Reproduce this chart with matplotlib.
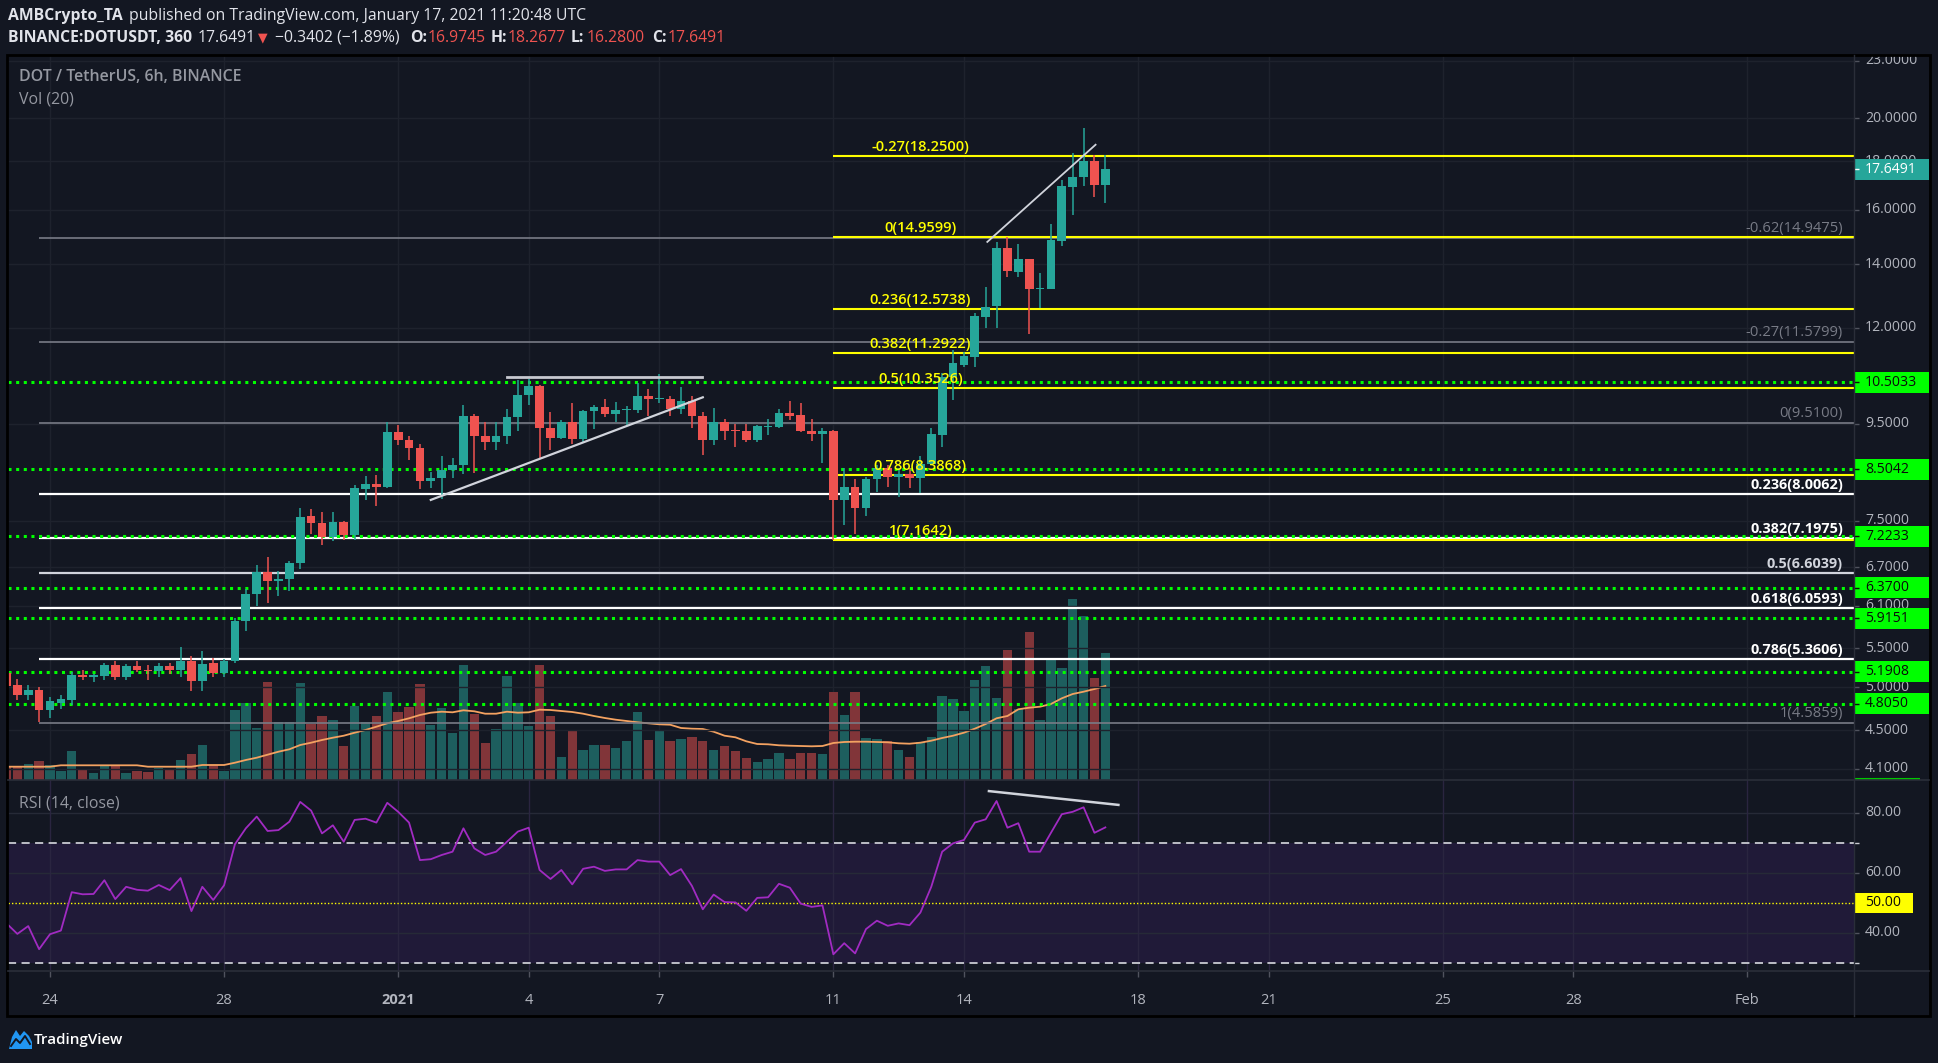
import numpy as np
import matplotlib
matplotlib.use("Agg")
import matplotlib.pyplot as plt
from matplotlib.patches import Rectangle, Polygon
from matplotlib.transforms import offset_copy, blended_transform_factory

# ---------------- data (6h candles, index 0 = Dec 23 2020 00:00 UTC) ----------------
opens = [5.18, 5.03, 4.91, 4.97, 4.73, 4.81, 4.85, 5.15, 5.13, 5.14,
         5.28, 5.12, 5.26, 5.22, 5.20, 5.27, 5.21, 5.33, 5.07, 5.31,
         5.18, 5.33, 5.87, 6.27, 6.62, 6.48, 6.51, 6.76, 7.59, 7.46,
         7.20, 7.47, 7.24, 8.10, 8.20, 8.15, 9.30, 9.13, 8.96, 8.27,
         8.32, 8.49, 8.58, 9.68, 9.23, 9.09, 9.23, 9.65, 10.19, 10.41,
         9.41, 9.18, 9.54, 9.15, 9.79, 9.89, 9.73, 9.82, 9.82, 10.16,
         10.09, 10.10, 9.84, 10.04, 9.69, 9.13, 9.54, 9.34, 9.33, 9.13,
         9.42, 9.43, 9.76, 9.70, 9.34, 9.26, 9.33, 7.89, 8.14, 7.74,
         8.30, 8.53, 8.35, 8.40, 8.33, 8.61, 9.24, 10.65, 10.95, 11.18,
         12.33, 12.65, 14.59, 13.76, 14.20, 13.18, 13.18, 14.83, 16.90, 17.31,
         18.00, 16.9745]
highs = [5.22, 5.10, 5.03, 5.00, 4.88, 4.91, 5.19, 5.21, 5.16, 5.31,
         5.33, 5.29, 5.33, 5.28, 5.31, 5.31, 5.51, 5.39, 5.46, 5.37,
         5.36, 5.92, 6.35, 6.73, 6.86, 6.63, 6.80, 7.73, 7.72, 7.67,
         7.66, 7.49, 8.18, 8.37, 8.38, 9.54, 9.48, 9.23, 9.05, 8.45,
         8.77, 8.74, 9.94, 9.72, 9.54, 9.53, 9.84, 10.57, 10.59, 10.43,
         9.78, 9.58, 10.00, 9.82, 9.95, 10.09, 10.02, 9.91, 10.49, 10.34,
         10.72, 10.16, 10.39, 10.15, 9.77, 9.86, 9.62, 9.49, 9.49, 9.48,
         9.60, 9.84, 10.04, 9.99, 9.61, 9.40, 9.35, 8.52, 8.30, 8.35,
         8.59, 8.59, 8.52, 8.52, 8.77, 9.40, 10.74, 11.38, 11.31, 12.43,
         13.26, 14.79, 14.95, 14.72, 14.20, 13.70, 15.46, 17.20, 18.36, 19.51,
         18.29, 18.2677]
lows = [5.00, 4.85, 4.85, 4.59, 4.64, 4.74, 4.79, 5.09, 5.06, 5.09,
        5.09, 5.09, 5.19, 5.09, 5.12, 5.16, 5.12, 4.96, 4.95, 5.12,
        5.12, 5.30, 5.73, 6.09, 6.14, 6.25, 6.32, 6.66, 7.27, 7.07,
        7.13, 7.16, 7.15, 7.89, 7.77, 8.12, 9.02, 8.70, 8.10, 8.12,
        7.90, 8.33, 8.40, 8.42, 8.91, 8.91, 9.05, 9.33, 9.94, 8.74,
        8.92, 9.16, 9.05, 9.09, 9.37, 9.65, 9.54, 9.48, 9.76, 9.68,
        10.00, 9.68, 9.73, 9.41, 8.80, 9.02, 9.13, 8.98, 9.08, 9.09,
        9.25, 9.40, 9.59, 9.30, 9.11, 8.63, 7.16, 7.42, 7.26, 7.59,
        8.05, 8.14, 7.94, 8.12, 8.02, 8.60, 8.98, 10.06, 10.90, 10.90,
        11.99, 12.00, 13.57, 13.59, 11.82, 12.60, 13.18, 14.63, 15.78, 16.93,
        16.48, 16.28]
closes = [5.02, 4.91, 4.97, 4.73, 4.84, 4.86, 5.15, 5.13, 5.15, 5.28,
          5.12, 5.26, 5.22, 5.20, 5.27, 5.21, 5.33, 5.07, 5.29, 5.17,
          5.33, 5.88, 6.27, 6.62, 6.48, 6.51, 6.76, 7.56, 7.46, 7.20,
          7.47, 7.24, 8.12, 8.20, 8.15, 9.30, 9.13, 8.96, 8.27, 8.32,
          8.49, 8.58, 9.68, 9.23, 9.09, 9.23, 9.65, 10.19, 10.41, 9.41,
          9.18, 9.54, 9.15, 9.80, 9.89, 9.73, 9.82, 9.83, 10.15, 10.09,
          10.10, 9.84, 10.04, 9.69, 9.13, 9.54, 9.33, 9.33, 9.13, 9.44,
          9.44, 9.76, 9.69, 9.34, 9.26, 9.33, 7.89, 8.14, 7.74, 8.30,
          8.53, 8.35, 8.40, 8.33, 8.61, 9.26, 10.65, 11.00, 11.20, 12.35,
          12.61, 14.59, 13.78, 14.20, 13.18, 13.21, 14.86, 16.93, 17.33, 17.99,
          16.97, 17.6491]
volume = [13, 14, 16, 19, 15, 9, 29, 11, 7, 14,
          14, 7, 9, 8, 12, 10, 20, 26, 35, 15,
          9, 70, 77, 52, 98, 58, 58, 97, 56, 64,
          60, 34, 74, 58, 64, 88, 68, 73, 96, 55,
          72, 47, 115, 66, 37, 51, 104, 77, 54, 115,
          64, 23, 49, 30, 35, 35, 32, 39, 68, 40,
          49, 39, 41, 43, 39, 30, 34, 29, 22, 18,
          21, 27, 21, 27, 27, 26, 88, 65, 88, 42,
          41, 39, 30, 23, 38, 43, 84, 81, 69, 100,
          114, 82, 130, 71, 148, 60, 120, 112, 181, 164,
          102, 127]
vol_ma = [13.3, 13.3, 13.3, 13.3, 13.3, 14.7, 14.7, 14.7, 14.7, 14.7,
          14.7, 14.7, 14.7, 13.3, 13.3, 13.3, 13.3, 13.3, 15, 15,
          15, 17.3, 20, 22.3, 25.3, 28.3, 30.7, 35, 37.3, 40,
          42.3, 44.3, 47.3, 50, 53.3, 56.7, 59, 61.7, 65, 67.3,
          68.3, 67.7, 69.7, 68.7, 66.3, 66.3, 68.3, 67.3, 67.7, 70.3,
          70, 69, 68, 66.3, 64, 62, 60.3, 59, 57.7, 56.7,
          55.7, 55.3, 52, 51.3, 51, 48.3, 44.3, 42.7, 38.7, 36,
          35.7, 34.7, 34.3, 34, 33.7, 34, 37, 38, 38.3, 38.3,
          38, 37.7, 36.7, 36.3, 37.3, 39.3, 42, 44.3, 47.3, 51.3,
          56, 61.7, 64, 70.7, 72.3, 73.3, 76, 81.7, 86, 88.3,
          91, 94]
rsi = [43.2, 39.7, 42.3, 34.6, 39.6, 40.8, 53.6, 52.9, 53.0, 57.6,
       51.3, 55.4, 54.4, 54.1, 56.0, 54.3, 58.3, 47.3, 55.4, 51.0,
       55.9, 69.6, 74.9, 78.8, 74.0, 74.3, 77.1, 83.7, 80.8, 73.2,
       75.9, 70.4, 77.7, 78.1, 76.8, 83.4, 80.4, 76.8, 64.3, 64.6,
       66.0, 67.1, 74.9, 68.2, 66.0, 67.1, 70.4, 73.8, 75.1, 61.0,
       58.0, 61.0, 56.2, 61.4, 62.1, 60.7, 61.2, 61.2, 64.3, 63.8,
       63.8, 59.3, 61.3, 55.7, 47.9, 52.8, 50.3, 50.2, 47.4, 51.7,
       51.9, 56.4, 55.1, 49.8, 48.7, 49.2, 32.9, 36.6, 33.2, 41.3,
       44.1, 42.4, 43.2, 42.6, 46.8, 55.4, 67.1, 69.9, 71.0, 76.8,
       77.9, 84.0, 75.1, 76.6, 67.1, 67.1, 73.4, 79.6, 80.4, 81.9,
       73.4, 75.2]

date_labels = ['24', '28', '2021', '4', '7', '11', '14', '18', '21', '25', '28', 'Feb']
date_index = [4, 20, 36, 48, 60, 76, 88, 104, 116, 132, 144, 160]

support_levels = [10.5033, 8.5042, 7.2233, 6.37, 5.9151, 5.1908, 4.805]
fib_a_ratio = ['-0.27', '0', '0.236', '0.382', '0.5', '0.786', '1']
fib_a_price = [18.25, 14.9599, 12.5738, 11.2922, 10.3526, 8.3868, 7.1642]
fib_b_ratio = ['-0.62', '-0.27', '0', '0.236', '0.382', '0.5', '0.618', '0.786', '1']
fib_b_price = [14.9475, 11.5799, 9.51, 8.0062, 7.1975, 6.6039, 6.0593, 5.3606, 4.5859]
price_ticks = [23, 20, 18, 16, 14, 12, 9.5, 7.5, 6.7, 6.1, 5.5, 5.0, 4.5, 4.1]
rsi_ticks = [80, 60, 40]
last_price = 17.6491
rsi_mid = 50

# drawn trend lines (index, price)
range_top_x, range_top_y = [46.0, 63.9], [10.64, 10.64]
wedge_x, wedge_y = [39.0, 64.0], [7.89, 10.13]
top_x, top_y = [90.15, 100.1], [14.79, 18.74]
rsi_div_x, rsi_div_y = [90.3, 102.2], [87.3, 82.7]

# ---------------- style / layout ----------------
W, H = 1938, 1063
BG = '#131722'
UP, DN = '#26a69a', '#ef5350'
UPV, DNV = '#1d5e5e', '#813539'
GRID = '#1e222d'
TXT = '#b2b5be'
FONT = ['Open Sans', 'DejaVu Sans']
plt.rcParams['font.family'] = FONT

fig = plt.figure(figsize=(W / 100, H / 100), dpi=100, facecolor=BG)
renderer = fig.canvas.get_renderer()


def rect(x0, y0, x1, y1):
    return [x0 / W, 1 - y1 / H, (x1 - x0) / W, (y1 - y0) / H]


def fit(s, target, weight='normal', base=10.0):
    t = fig.text(0, 0, s, fontsize=base, fontweight=weight)
    w = t.get_window_extent(renderer).width
    t.remove()
    return base * target / w


PX_L, PX_R, AX_R = 8, 1854, 1929
PY_T, PY_B, RY_B, TY_B = 55, 780, 971, 1016
XL, XR = 0.14, 169.81
PLO, PHI = 3.9886, 23.317
RLO, RHI = 27.33, 91.0
PX_PER_LN = 410.6

axv = fig.add_axes(rect(PX_L, PY_T, PX_R, PY_B), zorder=1, facecolor=BG)
ax = fig.add_axes(rect(PX_L, PY_T, PX_R, PY_B), zorder=2, sharex=axv)
ax.patch.set_visible(False)
axr = fig.add_axes(rect(PX_L, PY_B, PX_R, RY_B), zorder=2, facecolor=BG, sharex=axv)
axt = fig.add_axes(rect(PX_L, RY_B, PX_R, TY_B), zorder=2, facecolor=BG, sharex=axv)
axp = fig.add_axes(rect(PX_R, PY_T, AX_R, PY_B), zorder=2, facecolor=BG)
axrp = fig.add_axes(rect(PX_R, PY_B, AX_R, RY_B), zorder=2, facecolor=BG)
ov = fig.add_axes([0, 0, 1, 1], zorder=20)
ov.set_xlim(0, W)
ov.set_ylim(H, 0)
ov.axis('off')
ov.patch.set_visible(False)

for a in (axv, ax, axr, axt, axp, axrp):
    for s in a.spines.values():
        s.set_visible(False)
    a.tick_params(left=False, bottom=False, right=False, top=False,
                  labelleft=False, labelbottom=False, which='both')

x = np.arange(len(opens))
o, h, l, c = (np.array(v, dtype=float) for v in (opens, highs, lows, closes))
up = c >= o

# ---- grid ----
for p in date_index:
    axv.axvline(p, color=GRID, lw=1, zorder=0)
    axr.axvline(p, color='#2a2540', lw=1, zorder=0.6)
ax.set_yscale('log')
ax.hlines(price_ticks, XL, XR, colors=GRID, lw=1, zorder=0.5)

# ---- volume ----
vmax_axis = max(volume) * (PY_B - PY_T) / 181.0
axv.bar(x, volume, width=0.86, color=[UPV if u else DNV for u in up], lw=0, zorder=1)
axv.plot(x, vol_ma, color='#f4a261', lw=1.3, zorder=2)
axv.set_ylim(0, vmax_axis)

# ---- candles ----
cols = [UP if u else DN for u in up]
ax.vlines(x, l, h, colors=cols, lw=1.1, zorder=6)
lo_b = np.minimum(o, c)
hi_b = np.maximum(np.maximum(o, c), lo_b * 1.0025)
ax.bar(x, hi_b - lo_b, bottom=lo_b, width=0.8, color=cols, lw=0, zorder=7)

# ---- levels ----
ax.hlines(support_levels, XL, XR + 5, colors='#00ff00', lw=2.2, linestyles=(0, (1, 1.5)), zorder=5)

fib_b_colors = ['#787b86', '#787b86', '#787b86', '#ffffff', '#ffffff', '#d1d4dc', '#ffffff', '#ffffff', '#787b86']
fib_b_bold = [False, False, False, True, True, True, True, True, False]
fs_fib = fit('-0.27(18.2500)', 97.6)
fs_fibb = fit('0.236(8.0062)', 92.7, 'bold')
lab_tr = offset_copy(ax.transData, fig, y=2, units='dots')
for r, p, col, b in zip(fib_b_ratio, fib_b_price, fib_b_colors, fib_b_bold):
    ax.hlines(p, 3, XR + 5, colors=col, lw=1.6 if b else 1.2, zorder=4)
    ax.text(168.8, p, f'{r}({p:.4f})', ha='right', va='bottom', color=col,
            fontsize=fs_fibb if b else fs_fib, fontweight='bold' if b else 'normal',
            transform=lab_tr, zorder=9)
for r, p in zip(fib_a_ratio, fib_a_price):
    ax.hlines(p, 76, XR + 5, colors='#ffff00', lw=1.5, zorder=5.5)
    ax.text(84.0, p, f'{r}({p:.4f})', ha='center', va='bottom', color='#ffff00',
            fontsize=fs_fib, fontweight='semibold', transform=lab_tr, zorder=9)

ax.plot(range_top_x, range_top_y, color='#c7c9d0', lw=2, zorder=8)
ax.plot(wedge_x, wedge_y, color='#d1d4dc', lw=1.6, zorder=8)
ax.plot(top_x, top_y, color='#d1d4dc', lw=1.3, zorder=8)

ax.set_ylim(PLO, PHI)
axv.set_xlim(XL, XR)

# ---- RSI ----
axr.axhspan(30, 70, color='#201a38', zorder=0, lw=0)
axr.hlines(rsi_ticks, XL, XR, colors='#262a37', lw=1, zorder=0.5)
axr.axhline(70, color='#c9cbd2', lw=1.3, ls=(0, (4.5, 3)), zorder=1)
axr.axhline(30, color='#c9cbd2', lw=1.3, ls=(0, (4.5, 3)), zorder=1)
axr.axhline(rsi_mid, color='#ffff00', lw=1.0, ls=(0, (1, 1.5)), zorder=1)
axr.plot(x, rsi, color='#a12bc2', lw=1.3, zorder=3)
axr.plot(rsi_div_x, rsi_div_y, color='#d1d4dc', lw=1.8, zorder=4)
axr.set_ylim(RLO, RHI)

# ---- time axis ----
fs_time = fit('2021', 33.4, 'bold')
bt = blended_transform_factory(axt.transData, axt.transAxes)
axt.vlines(date_index, 0.86, 1.0, colors='#50535e', lw=1, transform=bt)
for lab, p in zip(date_labels, date_index):
    axt.text(p, 0.35, lab, ha='center', va='center', color=TXT, fontsize=fs_time,
             fontweight='bold' if lab == '2021' else 'normal', transform=bt)
axt.set_ylim(0, 1)

# ---- price scale ----
fs_ax = fit('20.0000', 52)
AXW = AX_R - PX_R
axp.set_yscale('log')
axp.set_ylim(PLO, PHI)
axp.set_xlim(0, AXW)
axp.hlines(price_ticks, 0, 5, colors='#50535e', lw=1)
for p in price_ticks:
    axp.text(11, p, f'{p:.4f}', ha='left', va='center', color=TXT, fontsize=fs_ax, clip_on=True)
f = np.exp(10.5 / PX_PER_LN)
for v in support_levels:
    axp.add_patch(Rectangle((0, v / f), AXW, v * f - v / f, fc='#00ff00', ec='none', zorder=3))
    axp.text(11, v, f'{v:.4f}', ha='left', va='center', color='#0a0a0a', fontsize=fs_ax, zorder=4)
    axp.hlines(v, 0, 5, colors='#0a0a0a', lw=1, zorder=4)
axp.add_patch(Rectangle((0, last_price / f), AXW, last_price * f - last_price / f,
                        fc=UP, ec='none', zorder=3))
axp.text(11, last_price, f'{last_price:.4f}', ha='left', va='center', color='white',
         fontsize=fs_ax, zorder=4)
axp.hlines(last_price, 0, 5, colors='white', lw=1, zorder=4)
axp.hlines(3.995, 0, 66, colors='#00c800', lw=1.5, zorder=4)

axrp.set_ylim(RLO, RHI)
axrp.set_xlim(0, AXW)
axrp.hlines(rsi_ticks, 0, 5, colors='#50535e', lw=1)
for v in rsi_ticks:
    axrp.text(11, v, f'{v:.2f}', ha='left', va='center', color=TXT, fontsize=fs_ax)
axrp.hlines([70, 30], 0, 5, colors='#c9cbd2', lw=1)
axrp.add_patch(Rectangle((0, rsi_mid - 10 / 3), 59, 20 / 3, fc='#ffff00', ec='none', zorder=3))
axrp.text(11, rsi_mid, f'{rsi_mid:.2f}', ha='left', va='center', color='#0a0a0a',
          fontsize=fs_ax, zorder=4)

# ---- frame ----
ov.plot([PX_R, PX_R], [PY_T, TY_B], color='#2a2e39', lw=1)
ov.plot([PX_L, AX_R], [PY_B, PY_B], color='#2a2e39', lw=1.2)
ov.plot([PX_L, AX_R], [RY_B, RY_B], color='#2a2e39', lw=1.2)
ov.add_patch(Rectangle((7, 54.5), AX_R - 6, TY_B - 54.5, fill=False, ec='#000000', lw=2))

# ---- header ----
WH = '#e1e3ea'
fs_h = fit('published on TradingView.com, January 17, 2021 11:20:48 UTC', 455)
ov.text(8, 16, 'AMBCrypto_TA', color=WH, fontsize=fs_h, fontweight='bold', va='center')
ov.text(129, 16, 'published on TradingView.com, January 17, 2021 11:20:48 UTC',
        color=WH, fontsize=fs_h, va='center')
hdr = [('BINANCE:DOTUSDT, 360', 8, 'bold', WH), ('17.6491', 198, 'normal', WH),
       ('\u25BC', 258, 'normal', DN), ('\u22120.3402 (\u22121.89%)', 275.5, 'normal', WH),
       ('O:', 410, 'bold', WH), ('16.9745', 427.5, 'normal', DN),
       ('H:', 491, 'bold', WH), ('18.2677', 508, 'normal', DN),
       ('L:', 571, 'bold', WH), ('16.2800', 587, 'normal', DN),
       ('C:', 652, 'bold', WH), ('17.6491', 668, 'normal', DN)]
for s, xp, wgt, col in hdr:
    ov.text(xp, 38, s, color=col, fontsize=fs_h if s != '\u25BC' else fs_h * 0.8,
            fontweight=wgt, va='center')

fs_t = fit('DOT / TetherUS, 6h, BINANCE', 223, 'semibold')
ov.text(19, 77, 'DOT / TetherUS, 6h, BINANCE', color='#9598a1', fontsize=fs_t,
        fontweight='semibold', va='center')
ov.text(19, 99, 'Vol (20)', color='#9598a1', fontsize=fs_t, va='center')
ov.text(19, 803, 'RSI (14, close)', color='#9598a1', fontsize=fs_t, va='center')

# ---- logo ----
ov.add_patch(Polygon([(9, 1049), (12, 1037), (16, 1030), (20, 1036), (24, 1031),
                      (29, 1036), (32, 1042), (32, 1049)], closed=True, fc='#2196f3', ec='none'))
ov.plot([11, 16, 20, 25, 30], [1046, 1039, 1043, 1036, 1044], color=BG, lw=1.4)
fs_l = fit('TradingView', 89, 'semibold')
ov.text(34, 1040, 'TradingView', color='#ffffff', fontsize=fs_l, fontweight='semibold', va='center')

fig.savefig('out.png', dpi=100, facecolor=BG)
